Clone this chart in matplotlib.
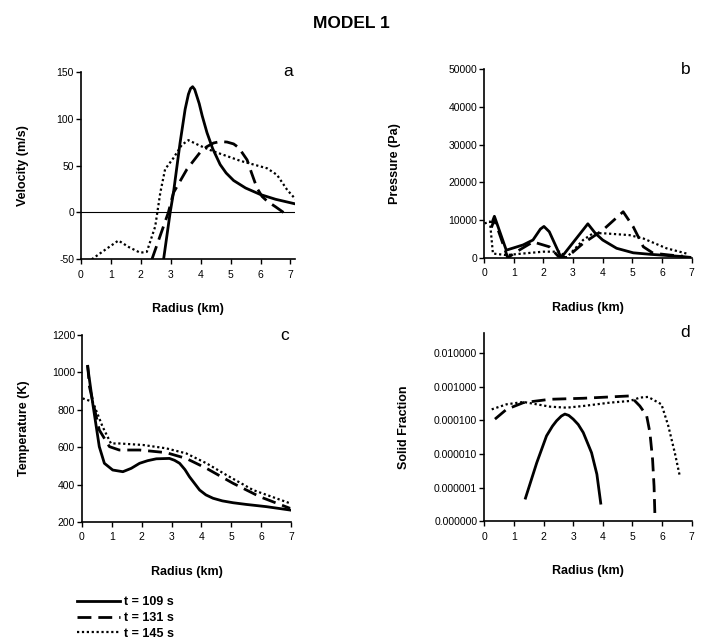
import numpy as np
import matplotlib
matplotlib.use("Agg")
import matplotlib.pyplot as plt
from matplotlib.ticker import FixedLocator, FormatStrFormatter

plt.rcParams['font.family'] = ['Liberation Sans', 'DejaVu Sans']
plt.rcParams['axes.unicode_minus'] = False

labels = ["t = 109 s", "t = 131 s", "t = 145 s"]

# (a) velocity
vel_x_109 = [2.76, 2.98, 3.09, 3.31, 3.48, 3.59, 3.66, 3.73, 3.80, 3.95, 4.05, 4.21, 4.4,
             4.65, 4.85, 5.10, 5.5, 6.0, 6.5, 7.17]
vel_y_109 = [-50, 0, 21, 74, 110, 126, 132, 134, 131, 116, 103, 85, 68,
             51, 42, 34, 26, 19, 14, 9]
vel_x_131 = [2.37, 2.92, 3.09, 3.54, 3.98, 4.2, 4.43, 4.65, 4.88, 5.1, 5.27, 5.55, 5.7,
             5.88, 6.05, 6.22, 6.5, 6.94]
vel_y_131 = [-50, 0, 21, 46, 64, 70, 74, 75.5, 75, 73, 69, 56, 42,
             26, 17, 12, 6, -4]
vel_x_145 = [0.36, 0.8, 1.25, 1.6, 1.98, 2.2, 2.48, 2.65, 2.81, 3.09, 3.37, 3.59, 3.98, 4.43,
             4.88, 5.32, 5.77, 6.22, 6.55, 6.89, 7.17]
vel_y_145 = [-50, -40, -30, -37, -43, -42, -15, 21, 46, 58, 72, 77, 71, 65,
             60, 55, 51, 47, 40, 24, 14]

# (b) pressure
pr_x_109 = [0.28, 0.35, 0.75, 1.32, 1.65, 1.9, 2.02, 2.2, 2.6, 3.5, 3.75, 4.0, 4.47, 5.03,
            5.6, 6.7, 6.94]
pr_y_109 = [9500, 11000, 2000, 3400, 4700, 7600, 8300, 6900, 0, 9000, 6500, 4700, 2500, 1300,
            900, 300, 100]
pr_x_131 = [0.25, 0.35, 0.8, 1.1, 1.65, 2.2, 2.5, 2.78, 3.34, 4.0, 4.69, 5.03, 5.37, 5.7,
            6.27, 6.7]
pr_y_131 = [8000, 10200, 0, 1600, 4200, 2900, 400, 0, 3800, 7300, 12200, 8200, 2900, 1200,
            700, 400]
pr_x_145 = [0.02, 0.2, 0.3, 0.75, 1.3, 2.0, 2.55, 2.78, 3.34, 3.68, 4.0, 4.9, 5.37, 6.15, 6.83]
pr_y_145 = [9100, 9600, 1100, 700, 1100, 1600, 1600, 0, 4700, 6500, 6500, 6000, 5100, 2500, 1100]

# (c) temperature
tm_x_109 = [0.19, 0.36, 0.58, 0.75, 1.03, 1.37, 1.65, 1.93, 2.2, 2.49, 2.93, 3.1, 3.27,
            3.45, 3.60, 3.94, 4.15, 4.39, 4.7, 5.06, 5.5, 6.18, 6.97]
tm_y_109 = [1031, 835, 603, 514, 478, 469, 487, 514, 528, 538, 540, 530, 514,
            480, 442, 371, 345, 327, 313, 303, 294, 282, 264]
tm_x_131 = [0.19, 0.25, 0.58, 0.92, 1.25, 1.93, 2.82, 3.49, 4.17, 5.06, 5.96, 6.97]
tm_y_131 = [1040, 924, 692, 603, 585, 585, 571, 540, 487, 407, 335, 273]
tm_x_145 = [0.02, 0.36, 0.69, 0.97, 1.25, 2.04, 2.82, 3.49, 4.17, 4.84, 5.73, 6.97]
tm_y_145 = [861, 843, 710, 620, 620, 612, 594, 567, 514, 451, 371, 300]

# (d) solid fraction (log10 values)
sf_x_109 = [1.39, 1.77, 2.1, 2.3, 2.44, 2.6, 2.72, 2.85, 3.0, 3.17, 3.34, 3.62, 3.8, 3.93]
sf_l_109 = [-6.31, -5.26, -4.46, -4.17, -4.01, -3.87, -3.81, -3.85, -3.96, -4.12, -4.36,
            -4.96, -5.6, -6.46]
sf_x_131 = [0.36, 0.75, 1.32, 2.22, 3.34, 4.47, 4.92, 5.25, 5.48, 5.59, 5.68, 5.73, 5.76]
sf_l_131 = [-3.96, -3.67, -3.47, -3.37, -3.34, -3.29, -3.27, -3.57, -3.86, -4.36, -5.16,
            -5.96, -6.86]
sf_x_145 = [0.25, 0.75, 1.32, 1.77, 2.22, 2.78, 3.34, 4.24, 4.92, 5.25, 5.53, 5.98, 6.21,
            6.43, 6.6]
sf_l_145 = [-3.67, -3.52, -3.45, -3.52, -3.59, -3.62, -3.57, -3.47, -3.42, -3.32, -3.30,
            -3.52, -4.16, -4.96, -5.66]

styles = [dict(color='black', lw=2.0, ls='-'),
          dict(color='black', lw=2.0, ls=(0, (5, 2.5))),
          dict(color='black', lw=1.6, ls=(0, (1, 1.2)))]

fig = plt.figure(figsize=(7.03, 6.39), dpi=100)
fig.text(0.5, 0.963, "MODEL 1", ha='center', va='center', fontsize=12.5, fontweight='bold')

ax_a = fig.add_axes([0.1152, 0.5942, 0.3044, 0.2936])
ax_b = fig.add_axes([0.6885, 0.5967, 0.2954, 0.2948])
ax_c = fig.add_axes([0.1166, 0.1831, 0.2973, 0.2926])
ax_d = fig.add_axes([0.6889, 0.1842, 0.2950, 0.2947])

def style_ax(ax, ylabel, letter, ypad):
    for s in ['top', 'right']:
        ax.spines[s].set_visible(False)
    for s in ['left', 'bottom']:
        ax.spines[s].set_linewidth(1.2)
    ax.tick_params(direction='out', length=3.5, width=1.0, labelsize=7.5)
    ax.tick_params(axis='y', pad=1.5)
    ax.tick_params(axis='x', pad=4)
    ax.set_xlabel("Radius (km)", fontsize=9, fontweight='bold', labelpad=17)
    ax.set_ylabel(ylabel, fontsize=9, fontweight='bold', labelpad=ypad)
    ax.text(0.97, 1.0, letter, transform=ax.transAxes, ha='center', va='center',
            fontsize=12.5)

# a
for xs, ys, st in zip([vel_x_109, vel_x_131, vel_x_145], [vel_y_109, vel_y_131, vel_y_145], styles):
    ax_a.plot(xs, ys, **st)
ax_a.axhline(0, color='black', lw=0.8)
ax_a.set_xlim(0, 7.15)
ax_a.set_ylim(-50, 150)
ax_a.set_xticks(range(0, 8))
ax_a.set_yticks([-50, 0, 50, 100, 150])
style_ax(ax_a, "Velocity (m/s)", "a", 20)

# b
for xs, ys, st in zip([pr_x_109, pr_x_131, pr_x_145], [pr_y_109, pr_y_131, pr_y_145], styles):
    ax_b.plot(xs, ys, **st)
ax_b.set_xlim(0, 7)
ax_b.set_ylim(0, 50000)
ax_b.set_xticks(range(0, 8))
ax_b.set_yticks(range(0, 50001, 10000))
style_ax(ax_b, "Pressure (Pa)", "b", 34)

# c
for xs, ys, st in zip([tm_x_109, tm_x_131, tm_x_145], [tm_y_109, tm_y_131, tm_y_145], styles):
    ax_c.plot(xs, ys, **st)
ax_c.set_xlim(0, 7)
ax_c.set_ylim(200, 1200)
ax_c.set_xticks(range(0, 8))
ax_c.set_yticks(range(200, 1201, 200))
style_ax(ax_c, "Temperature (K)", "c", 16)

# d
for xs, ls_, st in zip([sf_x_109, sf_x_131, sf_x_145], [sf_l_109, sf_l_131, sf_l_145], styles):
    ax_d.plot(xs, 10 ** np.array(ls_), **st)
ax_d.set_yscale('log')
ax_d.set_xlim(0, 7)
ax_d.set_ylim(1e-7, 0.04)
ax_d.set_xticks(range(0, 8))
ax_d.yaxis.set_major_locator(FixedLocator([1e-7, 1e-6, 1e-5, 1e-4, 1e-3, 1e-2]))
ax_d.yaxis.set_minor_locator(FixedLocator([]))
ax_d.yaxis.set_major_formatter(FormatStrFormatter('%.6f'))
style_ax(ax_d, "Solid Fraction", "d", 17)

handles = [plt.Line2D([], [], **st) for st in styles]
fig.legend(handles, labels, loc='upper left', bbox_to_anchor=(0.109, 0.067),
           frameon=False, prop={'size': 9, 'weight': 'bold'}, handlelength=3.5,
           handletextpad=0.3, labelspacing=0.3, borderpad=0, borderaxespad=0)

fig.savefig("out.png", dpi=100)
